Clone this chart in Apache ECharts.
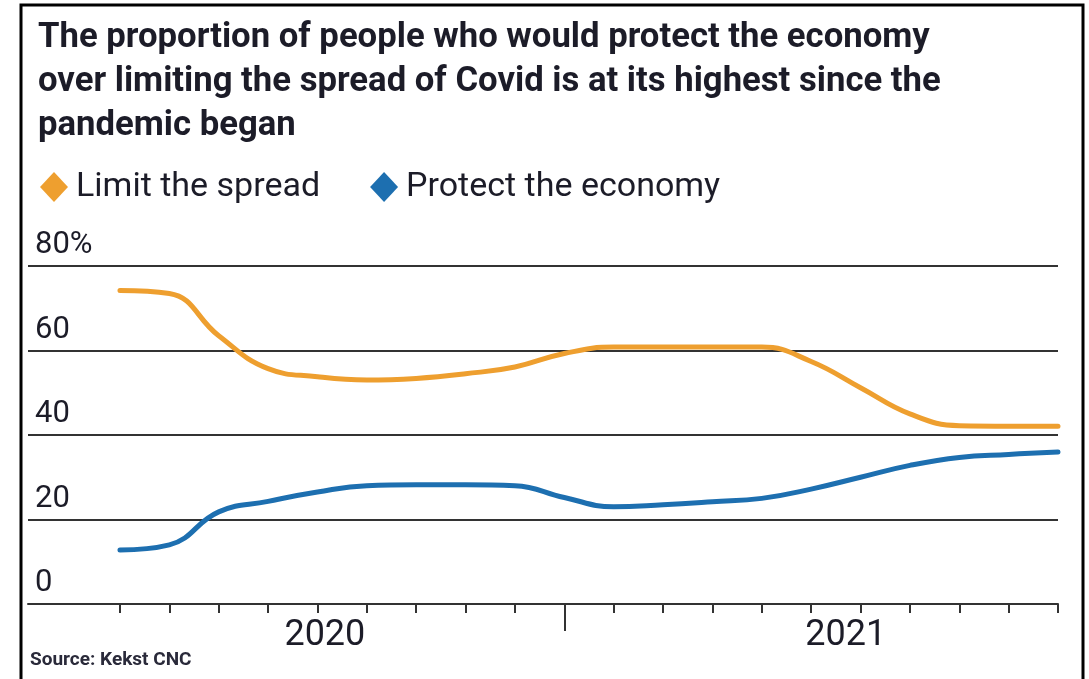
<!DOCTYPE html>
<html>
<head>
<meta charset="utf-8">
<title>Covid: protect the economy vs limit the spread</title>
<script src="https://cdn.jsdelivr.net/npm/echarts@6/dist/echarts.min.js"></script>
<style>
  html, body { margin: 0; padding: 0; background: #ffffff; }
  #chart { width: 1089px; height: 679px; }
</style>
</head>
<body>
<div id="chart"></div>
<script>
// Monthly survey readings, April 2020 to November 2021 (share of respondents, %)
const months = [
  'Apr 2020', 'May 2020', 'Jun 2020', 'Jul 2020', 'Aug 2020', 'Sep 2020',
  'Oct 2020', 'Nov 2020', 'Dec 2020', 'Jan 2021', 'Feb 2021', 'Mar 2021',
  'Apr 2021', 'May 2021', 'Jun 2021', 'Jul 2021', 'Aug 2021', 'Sep 2021',
  'Oct 2021', 'Nov 2021'
];
const limitSpread = [
  74.2, 73.5, 63.5, 55.7, 53.8, 53.0, 53.4, 54.5, 56.1, 59.3,
  60.8, 60.8, 60.8, 60.8, 57.4, 51.2, 45.0, 42.2, 42.1, 42.1
];
const protectEconomy = [
  12.8, 14.0, 21.8, 24.3, 26.5, 28.0, 28.2, 28.2, 28.0, 25.2,
  23.0, 23.5, 24.2, 25.0, 27.2, 30.0, 32.8, 34.7, 35.4, 36.0
];
const yTicks = [0, 20, 40, 60, 80];
const yearLabels = ['2020', '2021'];
const yearLabelPositions = [4.15, 14.7];   // month index where each year label is centred
const yearBoundary = 9;                     // January 2021

const seriesNames = ['Limit the spread', 'Protect the economy'];
const colors = ['#EE9F2F', '#1D6FB0'];

const font = 'Roboto, "Noto Sans", sans-serif';
const ink = '#1c1c28';

const monthIdx = months.map((_, i) => i);
const toPairs = vals => vals.map((v, i) => [monthIdx[i], v]);

const chart = echarts.init(document.getElementById('chart'), null, { renderer: 'canvas' });

const option = {
  backgroundColor: '#ffffff',
  animation: false,
  title: {
    text: 'The proportion of people who would protect the economy\nover limiting the spread of Covid is at its highest since the\npandemic began',
    left: 33,
    top: 11,
    textStyle: {
      fontFamily: font,
      fontWeight: 'bold',
      fontSize: 34.7,
      lineHeight: 44,
      color: ink
    }
  },
  legend: {
    data: seriesNames.map(n => ({ name: n, icon: 'diamond' })),
    left: 35,
    top: 165,
    itemWidth: 28,
    itemHeight: 30,
    itemGap: 50,
    textStyle: { fontFamily: font, fontSize: 34, color: ink, padding: [0, 0, 0, 3] }
  },
  grid: { left: 28, right: 31, top: 266, bottom: 75, containLabel: false },
  xAxis: [
    {
      type: 'value',
      min: -1.863,
      max: 19,
      axisLine: { show: true, lineStyle: { color: '#333', width: 2 } },
      axisTick: {
        show: true,
        customValues: monthIdx,
        length: 9,
        lineStyle: { color: '#333', width: 2 }
      },
      axisLabel: {
        show: true,
        customValues: yearLabelPositions,
        formatter: v => yearLabels[yearLabelPositions.indexOf(v)] || '',
        margin: 14,
        fontFamily: font,
        fontSize: 36,
        color: ink
      },
      splitLine: { show: false }
    },
    {
      type: 'value',
      position: 'bottom',
      min: -1.863,
      max: 19,
      axisLine: { show: false },
      axisTick: {
        show: true,
        customValues: [yearBoundary],
        length: 27,
        lineStyle: { color: '#333', width: 2 }
      },
      axisLabel: { show: false },
      splitLine: { show: false }
    }
  ],
  yAxis: {
    type: 'value',
    min: 0,
    max: 80,
    interval: 20,
    axisLine: { show: false },
    axisTick: { show: false },
    splitLine: { show: true, lineStyle: { color: '#333', width: 2 } },
    axisLabel: {
      inside: true,
      margin: 7,
      align: 'left',
      verticalAlign: 'bottom',
      padding: [0, 0, 5, 0],
      fontFamily: font,
      fontSize: 31,
      color: ink,
      formatter: v => (yTicks.indexOf(v) >= 0 ? (v === 80 ? '80%' : String(v)) : '')
    }
  },
  series: [
    {
      name: seriesNames[0],
      type: 'line',
      data: toPairs(limitSpread),
      smooth: 0.45,
      showSymbol: false,
      symbol: 'diamond',
      itemStyle: { color: colors[0] },
      lineStyle: { color: colors[0], width: 5, cap: 'round', join: 'round' },
      z: 3
    },
    {
      name: seriesNames[1],
      type: 'line',
      data: toPairs(protectEconomy),
      smooth: 0.45,
      showSymbol: false,
      symbol: 'diamond',
      itemStyle: { color: colors[1] },
      lineStyle: { color: colors[1], width: 5, cap: 'round', join: 'round' },
      z: 3
    }
  ],
  graphic: [
    {
      type: 'rect',
      shape: { x: 21, y: 5, width: 1062, height: 700 },
      style: { fill: null, stroke: '#000', lineWidth: 3 },
      silent: true,
      z: 10
    },
    {
      type: 'text',
      left: 30,
      top: 651,
      style: {
        text: 'Source: Kekst CNC',
        font: 'bold 19px Roboto, sans-serif',
        fill: '#2a2a3a'
      }
    }
  ]
};

chart.setOption(option);
</script>
</body>
</html>
